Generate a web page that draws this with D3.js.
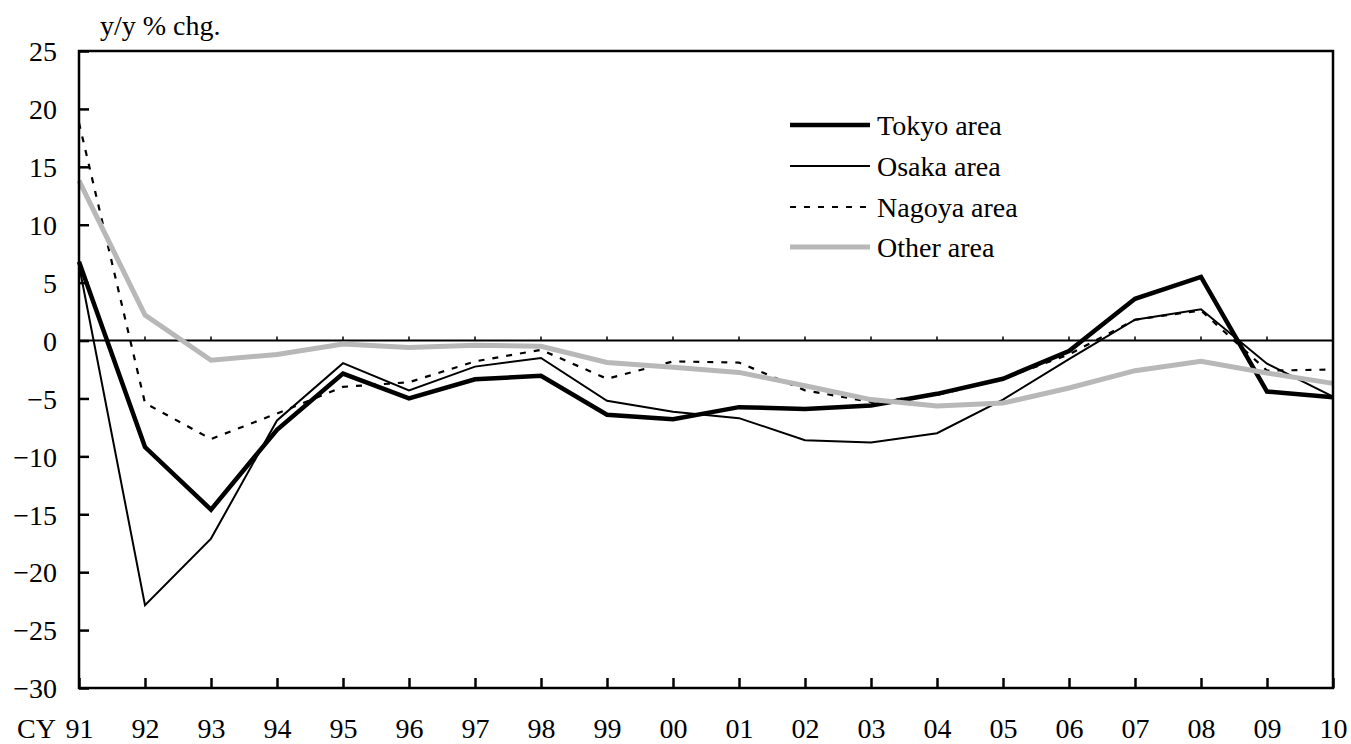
<!DOCTYPE html>
<html><head><meta charset="utf-8">
<script src="https://cdn.jsdelivr.net/npm/d3@7"></script>
<style>html,body{margin:0;padding:0;background:#fff;}svg{display:block;}text{font-family:"Liberation Serif","Times New Roman",serif;fill:#000;}</style>
</head><body>
<svg id="chart" width="1351" height="744"></svg>
<script>
const years = ["91","92","93","94","95","96","97","98","99","00","01","02","03","04","05","06","07","08","09","10"];
const tokyo  = [6.8,-9.2,-14.6,-7.7,-2.85,-5.0,-3.35,-3.05,-6.4,-6.8,-5.75,-5.9,-5.6,-4.6,-3.3,-0.9,3.6,5.5,-4.4,-4.9];
const osaka  = [6.5,-22.85,-17.1,-6.9,-1.95,-4.3,-2.25,-1.5,-5.2,-6.15,-6.7,-8.6,-8.8,-8.0,-5.1,-1.6,1.8,2.7,-2.0,-4.85];
const nagoya = [18.8,-5.4,-8.5,-6.3,-4.0,-3.6,-1.8,-0.8,-3.3,-1.8,-1.9,-4.3,-5.3,-4.7,-3.3,-1.2,1.8,2.6,-2.6,-2.5];
const other  = [13.8,2.2,-1.7,-1.2,-0.3,-0.6,-0.4,-0.5,-1.9,-2.3,-2.75,-3.9,-5.1,-5.65,-5.4,-4.1,-2.6,-1.8,-2.8,-3.7];
const yTicks = [25,20,15,10,5,0,-5,-10,-15,-20,-25,-30];
const seriesNames = ["Tokyo area","Osaka area","Nagoya area","Other area"];
const yLabel = "y/y % chg.";
const xPrefix = "CY";

const L = 79, R = 1333, T = 51, B = 688;
const svg = d3.select("#chart");
const x = d3.scalePoint().domain(years).range([L, R]);
const y = d3.scaleLinear().domain([-30, 25]).range([B, T]);
const FS = 28;

const styles = [
  {w:4.5, c:"#000", dash:null},
  {w:2, c:"#000", dash:null},
  {w:2.2, c:"#000", dash:"6,8"},
  {w:5, c:"#b8b8b8", dash:null}
];
const data = [tokyo, osaka, nagoya, other];

// zero line
svg.append("line").attr("x1", L).attr("x2", R).attr("y1", y(0)).attr("y2", y(0))
  .attr("stroke", "#000").attr("stroke-width", 2);
svg.append("g").selectAll("line").data(years.slice(1)).join("line")
  .attr("x1", d => x(d)).attr("x2", d => x(d)).attr("y1", y(0)).attr("y2", y(0) - 4)
  .attr("stroke", "#000").attr("stroke-width", 1.5);

// lines
const line = d3.line().x((d, i) => x(years[i])).y(d => y(d));
data.forEach((s, i) => {
  svg.append("path").datum(s).attr("d", line).attr("fill", "none")
    .attr("stroke", styles[i].c).attr("stroke-width", styles[i].w)
    .attr("stroke-dasharray", styles[i].dash).attr("stroke-linejoin", "miter");
});

// frame
svg.append("rect").attr("x", L).attr("y", T).attr("width", R - L).attr("height", B - T)
  .attr("fill", "none").attr("stroke", "#000").attr("stroke-width", 2.5);

// y axis
const yAxis = d3.axisLeft(y).tickValues(yTicks).tickSize(-10).tickPadding(22).tickFormat(d3.format("d"));
const gy = svg.append("g").attr("transform", `translate(${L},0)`).call(yAxis);
gy.select(".domain").remove();
gy.selectAll(".tick line").attr("stroke", "#000").attr("stroke-width", 2.5);
gy.selectAll(".tick text").attr("font-size", FS).attr("font-family", "Liberation Serif").attr("dy", "0.35em");

// x axis
const xAxis = d3.axisBottom(x).tickSize(-10).tickPadding(30);
const gx = svg.append("g").attr("transform", `translate(0,${B})`).call(xAxis);
gx.select(".domain").remove();
gx.selectAll(".tick line").attr("stroke", "#000").attr("stroke-width", 2.5);
gx.selectAll(".tick text").attr("font-size", FS).attr("font-family", "Liberation Serif");

svg.append("text").attr("x", 17).attr("y", 738).attr("font-size", FS).text(xPrefix);
svg.append("text").attr("x", 100).attr("y", 35).attr("font-size", FS).text(yLabel);

// legend
const leg = svg.append("g");
const legY = [125, 166, 207, 247];
seriesNames.forEach((n, i) => {
  leg.append("line").attr("x1", 790).attr("x2", 870).attr("y1", legY[i]).attr("y2", legY[i])
    .attr("stroke", styles[i].c).attr("stroke-width", styles[i].w).attr("stroke-dasharray", styles[i].dash);
  leg.append("text").attr("x", 877).attr("y", legY[i]).attr("dy", "0.35em").attr("font-size", FS).text(n);
});
</script>
</body></html>
